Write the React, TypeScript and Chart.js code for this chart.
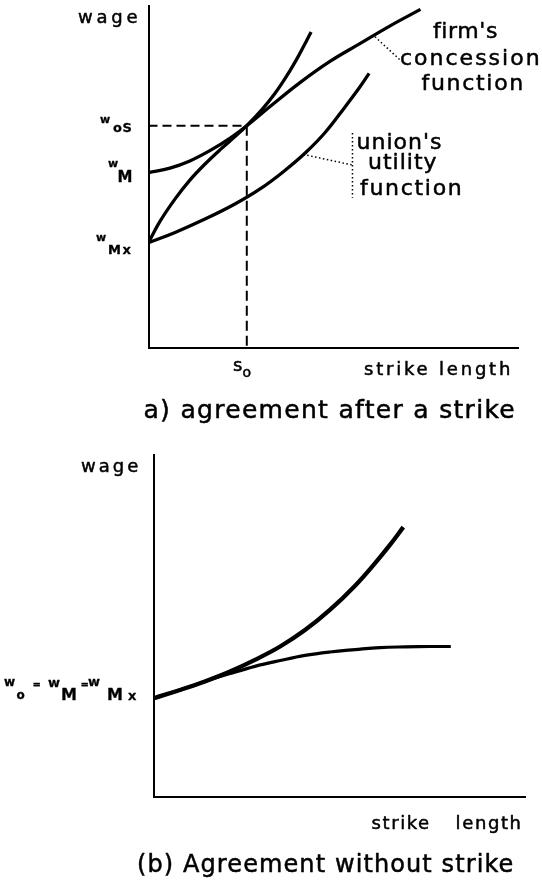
import React, { useEffect, useRef } from "react";
import { Chart, registerables } from "chart.js";
Chart.register(...registerables);

// ---------- Panel (a): agreement after a strike ----------
const firmStrike = [0, 5.8, 11.2, 16.6, 22.1, 26.6, 32.9, 41.0, 49.1, 57.2, 65.4, 73.6];
const firmWage = [51.3, 52.6, 54.7, 57.7, 61.4, 65.0, 70.6, 77.6, 83.8, 89.0, 94.2, 99.0];

const unionHighStrike = [0, 3.1, 7.2, 11.2, 15.3, 19.4, 23.4, 26.6, 30.7, 34.2, 37.5, 40.5, 42.6, 44.0];
const unionHighWage = [30.8, 37.0, 43.6, 49.1, 53.8, 58.0, 61.8, 65.0, 69.7, 74.4, 79.7, 85.2, 89.5, 92.4];

const unionLowStrike = [0, 7.2, 15.3, 23.4, 30.2, 36.9, 42.4, 47.8, 53.2, 57.2, 59.7];
const unionLowWage = [30.8, 33.8, 37.7, 42.1, 46.5, 51.9, 57.0, 63.0, 70.5, 76.3, 80.3];

const s0 = 26.6;
const wOS = 65.0;

const firmLeaderStrike = [61.3, 68.1];
const firmLeaderWage = [91.0, 84.2];
const unionLeaderStrike = [41.9, 55.2];
const unionLeaderWage = [56.6, 53.5];
const unionBracketStrike = [55.2, 55.2];
const unionBracketWage = [62.9, 43.9];

// ---------- Panel (b): agreement without strike ----------
const upperStrike = [0, 7.0, 13.7, 20.5, 27.2, 34.0, 40.7, 47.4, 54.2, 59.6, 63.6, 67.2];
const upperWage = [28.9, 31.3, 33.8, 36.7, 40.1, 44.0, 48.8, 54.7, 61.8, 68.4, 73.7, 78.9];

const lowerStrike = [0, 7.0, 13.7, 20.5, 27.2, 34.0, 40.7, 47.4, 54.2, 60.9, 67.7, 74.4, 80.0];
const lowerWage = [28.9, 31.3, 33.8, 36.1, 38.2, 39.9, 41.4, 42.4, 43.1, 43.7, 43.9, 44.0, 44.0];

const pts = (xs: number[], ys: number[]) => xs.map((x, i) => ({ x, y: ys[i] }));

const FONT = '"DejaVu Sans", "Liberation Sans", Arial, sans-serif';

function T(
  ctx: CanvasRenderingContext2D,
  s: string,
  x: number,
  y: number,
  size: number,
  bold = false,
  ls = 0,
  ws = 0
) {
  ctx.save();
  ctx.font = `${bold ? "bold " : ""}${size}px ${FONT}`;
  (ctx as any).letterSpacing = `${ls}px`;
  (ctx as any).wordSpacing = `${ws}px`;
  ctx.fillStyle = "#000";
  ctx.strokeStyle = "#000";
  ctx.lineWidth = bold ? 0.3 : 0.5;
  ctx.lineJoin = "round";
  ctx.textAlign = "left";
  ctx.textBaseline = "alphabetic";
  ctx.fillText(s, x, y);
  ctx.strokeText(s, x, y);
  ctx.restore();
}

const curve = (data: { x: number; y: number }[], width = 3) => ({
  data,
  showLine: true,
  borderColor: "#000",
  borderWidth: width,
  pointRadius: 0,
  tension: 0.4,
  fill: false,
});

const straight = (data: { x: number; y: number }[], width: number, dash: number[]) => ({
  data,
  showLine: true,
  borderColor: "#000",
  borderWidth: width,
  borderDash: dash,
  pointRadius: 0,
  tension: 0,
  fill: false,
});

const axisOpts = (min: number, max: number) => ({
  type: "linear" as const,
  min,
  max,
  grid: { display: false, drawTicks: false },
  ticks: { display: false },
  border: { display: true, color: "#000", width: 2 },
});

const textPluginA = {
  id: "textA",
  afterDraw(chart: any) {
    const ctx = chart.ctx as CanvasRenderingContext2D;
    T(ctx, "wage", 78, 23, 18, false, 3.8);
    // w_oS
    T(ctx, "w", 100, 123, 11, true);
    T(ctx, "oS", 113, 132, 13, true, 0.5);
    // w_M
    T(ctx, "w", 108, 167, 11, true);
    T(ctx, "M", 117.5, 181.5, 15, true);
    // w_Mx
    T(ctx, "w", 96, 240.5, 11, true);
    T(ctx, "Mx", 108, 253.5, 13, true, 1.5);
    // curve labels
    T(ctx, "firm's", 433, 37.5, 22, false, 0.6);
    T(ctx, "concession", 400, 65, 22, false, 2);
    T(ctx, "function", 421.5, 90, 22, false, 1.7);
    T(ctx, "union's", 356.5, 148.5, 22, false, 1);
    T(ctx, "utility", 368, 168.5, 22, false, 1);
    T(ctx, "function", 360, 195, 22, false, 1.7);
    // x labels
    T(ctx, "s", 233, 371, 18);
    T(ctx, "o", 242.5, 377, 14);
    T(ctx, "strike length", 364, 375, 18, false, 2.8);
    T(ctx, "a) agreement after a strike", 143.5, 417.5, 25, false, 1.3);
  },
};

const textPluginB = {
  id: "textB",
  afterDraw(chart: any) {
    const ctx = chart.ctx as CanvasRenderingContext2D;
    const o = 440; // canvas offset on page
    T(ctx, "wage", 81, 472 - o, 18, false, 3);
    T(ctx, "w", 4, 686 - o, 12, true);
    T(ctx, "o", 16.5, 698.5 - o, 12, true);
    T(ctx, "=", 32.5, 687.5 - o, 10, true);
    T(ctx, "w", 48, 686.5 - o, 13, true);
    T(ctx, "M", 61, 700 - o, 16, true);
    T(ctx, "=", 80.5, 687.5 - o, 10, true);
    T(ctx, "w", 88, 686 - o, 13, true);
    T(ctx, "M", 107, 700 - o, 16, true);
    T(ctx, "x", 128, 700 - o, 13, true);
    T(ctx, "strike length", 371.5, 828.5 - o, 18, false, 1.6, 17.5);
    T(ctx, "(b) Agreement without strike", 137, 871.5 - o, 24, false, 1.1);
  },
};

export default function App() {
  const refA = useRef<HTMLCanvasElement>(null);
  const refB = useRef<HTMLCanvasElement>(null);

  useEffect(() => {
    const common = {
      animation: false as const,
      responsive: false,
      devicePixelRatio: 1,
      events: [] as any[],
      plugins: {
        legend: { display: false },
        tooltip: { enabled: false },
        title: { display: false },
      },
    };

    const chartA = new Chart(refA.current!, {
      type: "scatter",
      data: {
        datasets: [
          curve(pts(firmStrike, firmWage), 3.3),
          curve(pts(unionHighStrike, unionHighWage), 3.3),
          curve(pts(unionLowStrike, unionLowWage), 3.3),
          straight(pts([0, s0], [wOS, wOS]), 2, [9, 5]),
          straight(pts([s0, s0], [wOS, 0]), 2, [10, 5]),
          straight(pts(firmLeaderStrike, firmLeaderWage), 1.5, [1.5, 2.5]),
          straight(pts(unionLeaderStrike, unionLeaderWage), 1.5, [1.5, 2.5]),
          straight(pts(unionBracketStrike, unionBracketWage), 1.5, [1.5, 2.5]),
        ] as any,
      },
      options: {
        ...common,
        layout: { padding: { left: 148.5, right: 24, top: 6, bottom: 82 } },
        scales: { x: axisOpts(0, 100), y: axisOpts(0, 100) },
      } as any,
      plugins: [textPluginA],
    });

    const chartB = new Chart(refB.current!, {
      type: "scatter",
      data: {
        datasets: [
          curve(pts(upperStrike, upperWage), 4.3),
          curve(pts(lowerStrike, lowerWage), 3.2),
        ] as any,
      },
      options: {
        ...common,
        layout: { padding: { left: 154, right: 17, top: 15, bottom: 89 } },
        scales: { x: axisOpts(0, 100), y: axisOpts(0, 100) },
      } as any,
      plugins: [textPluginB],
    });

    return () => {
      chartA.destroy();
      chartB.destroy();
    };
  }, []);

  return (
    <div
      style={{
        position: "absolute",
        left: 0,
        top: 0,
        width: 542,
        height: 886,
        background: "#fff",
        overflow: "hidden",
      }}
    >
      <canvas
        ref={refA}
        width={542}
        height={430}
        style={{ position: "absolute", left: 0, top: 0, width: 542, height: 430 }}
      />
      <canvas
        ref={refB}
        width={542}
        height={446}
        style={{ position: "absolute", left: 0, top: 440, width: 542, height: 446 }}
      />
    </div>
  );
}
